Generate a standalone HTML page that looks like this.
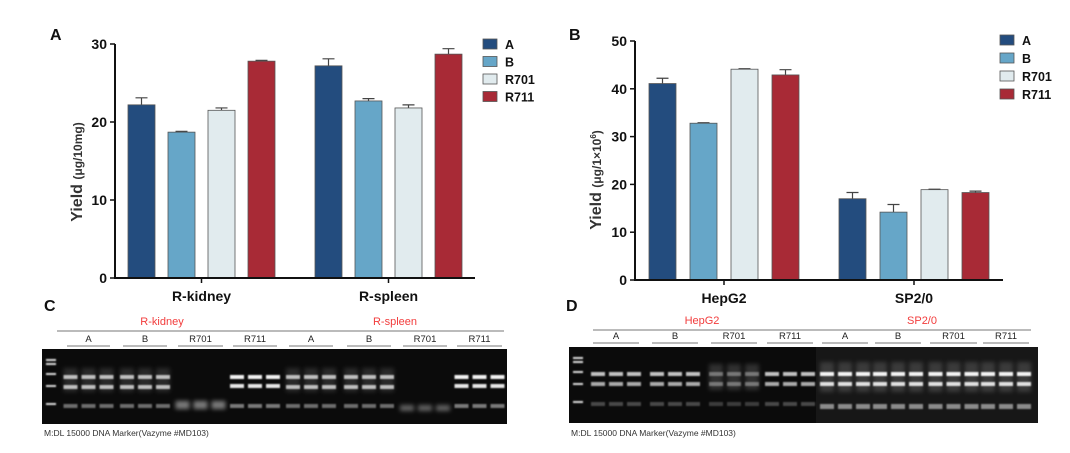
<!DOCTYPE html>
<html><head><meta charset="utf-8"><style>
body{margin:0;background:#fff;}
svg{display:block;font-family:"Liberation Sans",Arial,sans-serif;}
</style></head><body>
<svg id="root" width="1070" height="453" viewBox="0 0 1070 453">
<defs>
<filter id="blur1" x="-50%" y="-200%" width="200%" height="500%"><feGaussianBlur stdDeviation="0.9"/></filter>
<filter id="blur2" x="-50%" y="-200%" width="200%" height="500%"><feGaussianBlur stdDeviation="2"/></filter>
</defs>
</svg>
<script>
const NS='http://www.w3.org/2000/svg';
const root=document.getElementById('root');
function mk(tag,attrs,parent,text){const e=document.createElementNS(NS,tag);for(const k in attrs)e.setAttribute(k,attrs[k]);if(text!==undefined)e.textContent=text;(parent||root).appendChild(e);return e;}

// ---- data ----
const seriesNames=['A','B','R701','R711'];
const seriesColors=['#234c7e','#66a6c8','#e1ebee','#a82a36'];
const catsA=['R-kidney','R-spleen'];
const valsA=[[22.2,27.2],[18.7,22.7],[21.5,21.8],[27.8,28.7]];
const errA=[[0.9,0.9],[0.1,0.3],[0.3,0.4],[0.1,0.7]];
const ticksA=[0,10,20,30];
const catsB=['HepG2','SP2/0'];
const valsB=[[41.1,17.0],[32.8,14.2],[44.1,18.9],[42.9,18.3]];
const errB=[[1.1,1.3],[0.1,1.6],[0.1,0.1],[1.1,0.3]];
const ticksB=[0,10,20,30,40,50];

function chart(cfg){
  const g=mk('g',{});
  
  
  const y=v=>cfg.y0-(v-0)/(cfg.ymax)*(cfg.y0-cfg.ytop);
  // panel letter
  const L=mk('text',{x:cfg.letterX,y:cfg.letterY,'font-size':16,'font-weight':'bold',fill:'#111'},g,cfg.letter);
  
  
  // bars
  cfg.cats.forEach((c,ci)=>{
    seriesNames.forEach((s,si)=>{
      const x=cfg.groupStart[ci]+si*cfg.step;
      const v=cfg.vals[si][ci],e=cfg.err[si][ci];
      const eb=mk('path',{d:`M${x+cfg.bw/2} ${y(v)}V${y(v+e)}M${x+cfg.bw/2-6} ${y(v+e)}H${x+cfg.bw/2+6}`,stroke:'#444','stroke-width':1.2,fill:'none'},g);
      
      
      const r=mk('rect',{x:x,y:y(v),width:cfg.bw,height:cfg.y0-y(v),fill:seriesColors[si],stroke:'#555','stroke-width':0.8},g);
      
      
    });
    const cx=cfg.groupStart[ci]+(3*cfg.step+cfg.bw)/2;
    mk('line',{x1:cx,x2:cx,y1:cfg.y0,y2:cfg.y0+5,stroke:'#111','stroke-width':1.5},g);
    const t=mk('text',{x:cx,y:cfg.y0+23,'font-size':14,'font-weight':'bold','text-anchor':'middle',fill:'#111'},g,c);
    
    
  });
  // axes
  const ax=mk('path',{d:`M${cfg.x0} ${cfg.ytop}V${cfg.y0}H${cfg.xend}`,stroke:'#111','stroke-width':2,fill:'none'},g);
  
  
  cfg.ticks.forEach(tv=>{
    mk('line',{x1:cfg.x0-5,x2:cfg.x0,y1:y(tv),y2:y(tv),stroke:'#111','stroke-width':1.5},g);
    const t=mk('text',{x:cfg.x0-8,y:y(tv)+5,'font-size':14,'font-weight':'bold','text-anchor':'end',fill:'#111'},g,tv);
    
    
  });
  const yt=mk('text',{transform:`translate(${cfg.ytX},${cfg.ytY}) rotate(-90)`,'text-anchor':'middle','font-weight':'bold',fill:'#333'},g);
  
  
  mk('tspan',{'font-size':16},yt,'Yield ');
  mk('tspan',{'font-size':12},yt,cfg.unit);
  if(cfg.sup){mk('tspan',{'font-size':8,dy:-5},yt,cfg.sup);mk('tspan',{'font-size':12,dy:5},yt,')');}
  // legend
  seriesNames.forEach((s,si)=>{
    const ly=cfg.legY+si*cfg.legStep;
    const r=mk('rect',{x:cfg.legX,y:ly-5,width:14,height:10,fill:seriesColors[si],stroke:'#555','stroke-width':0.8},g);
    
    
    const t=mk('text',{x:cfg.legX+22,y:ly+5,'font-size':12.5,'font-weight':'bold',fill:'#111'},g,s);
    
    
  });
}
chart({name:'chart-a',letter:'A',letterX:50,letterY:40,cats:catsA,vals:valsA,err:errA,ticks:ticksA,ymax:30,y0:278,ytop:44,x0:115,xend:475,groupStart:[128,315],step:40,bw:27,ytX:82,ytY:172,unit:'(μg/10mg)',legX:483,legY:44,legStep:17.5});
chart({name:'chart-b',letter:'B',letterX:569,letterY:40,cats:catsB,vals:valsB,err:errB,ticks:ticksB,ymax:50,y0:280,ytop:41,x0:635,xend:1003,groupStart:[649,839],step:41,bw:27,ytX:601,ytY:180,unit:'(μg/1×10',sup:'6',legX:1000,legY:40,legStep:18});

// ---- gels ----
const gelGroupsC=[[67,110],[123,167],[178,223],[233,277],[289,333],[347,391],[403,447],[457,502]];
const gelGroupsD=[[593,639],[652,698],[711,757],[767,813],[822,868],[875,921],[930,977],[983,1029]];
const groupLabels=['A','B','R701','R711','A','B','R701','R711'];
function gel(cfg){
  const g=mk('g',{});
  
  
  const L=mk('text',{x:cfg.letterX,y:311,'font-size':16,'font-weight':'bold',fill:'#111'},g,cfg.letter);
  
  
  cfg.samples.forEach((s,i)=>{
    const t=mk('text',{x:cfg.sampleX[i],y:cfg.headY-6,'font-size':11,'text-anchor':'middle',fill:'#f23c3c'},g,s);
    
    
  });
  mk('line',{x1:cfg.hx1,x2:cfg.hx2,y1:cfg.headY,y2:cfg.headY,stroke:'#777','stroke-width':1},g);
  cfg.groups.forEach((gr,i)=>{
    const t=mk('text',{x:(gr[0]+gr[1])/2,y:cfg.ulY-4,'font-size':9.5,'text-anchor':'middle',fill:'#222'},g,groupLabels[i]);
    
    
    mk('line',{x1:gr[0],x2:gr[1],y1:cfg.ulY,y2:cfg.ulY,stroke:'#777','stroke-width':1},g);
  });
  const bg=mk('rect',{x:cfg.gx,y:cfg.gy,width:cfg.gw,height:cfg.gh,fill:'#0b0b0b'},g);
  
  
  if(cfg.lightFrom){mk('rect',{x:cfg.lightFrom,y:cfg.gy,width:cfg.gx+cfg.gw-cfg.lightFrom,height:cfg.gh,fill:'#171717'},g);}
  // marker
  [10,14,24,36,54].forEach(o=>mk('rect',{x:cfg.gx+4,y:cfg.gy+o,width:10,height:2,fill:'#ddd',filter:'url(#blur1)'},g));
  cfg.groups.forEach((gr,i)=>{
    const c=(gr[0]+gr[1])/2;
    [-18,0,18].forEach(d=>{
      const x=c+d-7;
      const b=cfg.bands(i,x>=(cfg.lightFrom||9999));
      b.forEach(([yy,h,op,blur])=>{
        mk('rect',{x:x,y:yy,width:14,height:h,fill:'#fff',opacity:op,filter:blur?'url(#blur2)':'url(#blur1)'},g);
      });
    });
  });
  const cap=mk('text',{x:cfg.gx+2,y:436,'font-size':8.5,fill:'#333'},g,'M:DL 15000 DNA Marker(Vazyme #MD103)');
  
  
}
gel({name:'gel-c',letter:'C',letterX:44,samples:['R-kidney','R-spleen'],sampleX:[162,395],headY:331,hx1:57,hx2:504,ulY:346,groups:gelGroupsC,gx:42,gy:349,gw:465,gh:75,
  bands:(i)=>{
    if(i===2) return [[401,8,0.45,true]];
    if(i===6) return [[405,6,0.35,true]];
    if(i===3||i===7) return [[375,4,0.95],[384,4,0.9],[404,4,0.45]];
    return [[375,4,0.7],[385,4,0.7],[404,4,0.4],[368,24,0.12,true]];
  }});
gel({name:'gel-d',letter:'D',letterX:566,samples:['HepG2','SP2/0'],sampleX:[702,922],headY:330,hx1:593,hx2:1031,ulY:343,groups:gelGroupsD,gx:569,gy:347,gw:469,gh:76,lightFrom:816,
  bands:(i,light)=>{
    if(light) return [[372,4,0.95],[382,4,0.85],[404,5,0.5],[362,30,0.15,true]];
    if(i===2) return [[372,4,0.35],[382,4,0.35],[402,4,0.2],[364,26,0.15,true]];
    return [[372,4,0.75],[382,4,0.65],[402,4,0.25]];
  }});
</script>
</body></html>
